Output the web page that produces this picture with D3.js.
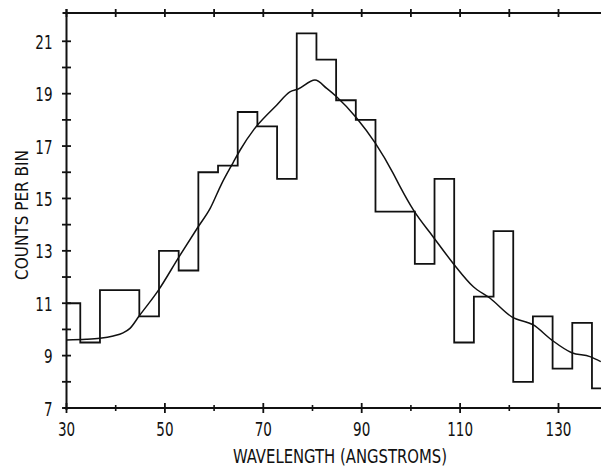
<!DOCTYPE html>
<html>
<head>
<meta charset="utf-8">
<script src="https://cdn.jsdelivr.net/npm/d3@7"></script>
<style>
  body { margin: 0; background: #fff; }
  svg text { font-family: "DejaVu Sans Condensed", "Liberation Sans Narrow", "DejaVu Sans", sans-serif; fill: #111; }
</style>
</head>
<body>
<div id="chart"></div>
<script>
// histogram bins (left edge in angstroms) and counts per bin
var binEdges = [28.8, 32.8, 36.8, 40.8, 44.8, 48.8, 52.8, 56.8, 60.8, 64.8, 68.8, 72.8, 76.8, 80.8,
  84.8, 88.8, 92.8, 96.8, 100.8, 104.8, 108.8, 112.8, 116.8, 120.8, 124.8, 128.8, 132.8, 136.8, 140.8];
var counts = [11.0, 9.5, 11.5, 11.5, 10.5, 13.0, 12.25, 16.0, 16.25, 18.3, 17.75, 15.75, 21.3, 20.3,
  18.75, 18.0, 14.5, 14.5, 12.5, 15.75, 9.5, 11.25, 13.75, 8.0, 10.5, 8.5, 10.25, 7.75];

// smoothed curve
var curveX = [30.0, 34.0, 36.8, 39.5, 41.5, 42.9, 44.8, 48.7, 52.9, 56.7, 59.2, 61.5, 63.9, 65.3, 68.0, 69.0,
  72.7, 75.4, 77.1, 80.5, 82.9, 84.9, 89.0, 92.8, 96.4, 97.8, 100.5, 104.5, 108.6, 112.7, 116.1, 120.5,
  124.9, 128.6, 132.7, 136.4, 138.6];
var curveY = [9.60, 9.62, 9.66, 9.75, 9.87, 10.04, 10.52, 11.5, 12.78, 13.9, 14.62, 15.55, 16.38, 16.85, 17.61, 17.84,
  18.56, 19.07, 19.18, 19.52, 19.20, 18.88, 18.06, 17.10, 15.96, 15.45, 14.56, 13.54, 12.52, 11.63, 11.19, 10.48,
  10.17, 9.60, 9.11, 8.96, 8.77];

var xMajor = [30, 50, 70, 90, 110, 130];
var xMinor = [40, 60, 80, 100, 120];
var yMajor = [7, 9, 11, 13, 15, 17, 19, 21];
var yMinor = [8, 10, 12, 14, 16, 18, 20];

var width = 601, height = 470;
var x = d3.scaleLinear().domain([30, 140]).range([66.5, 607.7]);
var y = d3.scaleLinear().domain([7, 22.08]).range([408, 13]);

var svg = d3.select("#chart").append("svg")
  .attr("width", width)
  .attr("height", height);

svg.append("defs").append("clipPath").attr("id", "plot")
  .append("rect")
  .attr("x", x(30)).attr("y", 0)
  .attr("width", width - x(30)).attr("height", y(7));

// histogram as a step line
var steps = binEdges.map(function(e, i) { return [e, i < counts.length ? counts[i] : counts[counts.length - 1]]; });
var stepLine = d3.line()
  .x(function(d) { return x(d[0]); })
  .y(function(d) { return y(d[1]); })
  .curve(d3.curveStepAfter);

svg.append("path")
  .datum(steps)
  .attr("clip-path", "url(#plot)")
  .attr("d", stepLine)
  .attr("fill", "none")
  .attr("stroke", "#111")
  .attr("stroke-width", 1.8);

// smooth curve
var smooth = d3.line()
  .x(function(d) { return x(d[0]); })
  .y(function(d) { return y(d[1]); })
  .curve(d3.curveMonotoneX);

svg.append("path")
  .datum(curveX.map(function(v, i) { return [v, curveY[i]]; }))
  .attr("clip-path", "url(#plot)")
  .attr("d", smooth)
  .attr("fill", "none")
  .attr("stroke", "#111")
  .attr("stroke-width", 1.5);

// axes: ticks cross the line on both sides
var bottomAxis = svg.append("g").attr("transform", "translate(0," + y(7) + ")");
bottomAxis.append("line").attr("x1", x(30) - 3).attr("x2", width).attr("y1", 0).attr("y2", 0)
  .attr("stroke", "#111").attr("stroke-width", 2);
bottomAxis.selectAll(".maj").data(xMajor).enter().append("line")
  .attr("x1", function(d) { return x(d); }).attr("x2", function(d) { return x(d); })
  .attr("y1", -5).attr("y2", 5).attr("stroke", "#111").attr("stroke-width", 1.8);
bottomAxis.selectAll(".mnr").data(xMinor).enter().append("line")
  .attr("x1", function(d) { return x(d); }).attr("x2", function(d) { return x(d); })
  .attr("y1", -3).attr("y2", 3).attr("stroke", "#111").attr("stroke-width", 1.6);
bottomAxis.selectAll("text").data(xMajor).enter().append("text")
  .attr("x", function(d) { return x(d); })
  .attr("y", 28)
  .attr("text-anchor", "middle")
  .attr("font-size", 20)
  .attr("textLength", function(d) { return String(d).length * 8.6; })
  .attr("lengthAdjust", "spacingAndGlyphs")
  .text(function(d) { return d; });

var topAxis = svg.append("g").attr("transform", "translate(0," + y(22.08) + ")");
topAxis.append("line").attr("x1", x(30) - 4).attr("x2", width).attr("y1", 0).attr("y2", 0)
  .attr("stroke", "#111").attr("stroke-width", 2);
topAxis.selectAll("line.t").data(xMajor.concat(xMinor)).enter().append("line")
  .attr("x1", function(d) { return x(d); }).attr("x2", function(d) { return x(d); })
  .attr("y1", -4).attr("y2", 4).attr("stroke", "#111").attr("stroke-width", 1.8);

var leftAxis = svg.append("g").attr("transform", "translate(" + x(30) + ",0)");
leftAxis.append("line").attr("x1", 0).attr("x2", 0).attr("y1", y(22.08) - 4).attr("y2", y(7) + 2)
  .attr("stroke", "#111").attr("stroke-width", 2);
leftAxis.selectAll(".ytick").data(yMajor.concat(yMinor)).enter().append("line")
  .attr("x1", -4.5).attr("x2", 4.5)
  .attr("y1", function(d) { return y(d); }).attr("y2", function(d) { return y(d); })
  .attr("stroke", "#111").attr("stroke-width", 1.8);
leftAxis.selectAll("text").data(yMajor).enter().append("text")
  .attr("x", -14)
  .attr("y", function(d) { return y(d) + 7.5; })
  .attr("text-anchor", "end")
  .attr("font-size", 20)
  .attr("textLength", function(d) { return String(d).length * 8.6; })
  .attr("lengthAdjust", "spacingAndGlyphs")
  .text(function(d) { return d; });

// axis titles
svg.append("text")
  .attr("x", 340).attr("y", 463)
  .attr("text-anchor", "middle")
  .attr("font-size", 19)
  .attr("textLength", 214)
  .attr("lengthAdjust", "spacingAndGlyphs")
  .text("WAVELENGTH (ANGSTROMS)");

svg.append("text")
  .attr("transform", "translate(28,215) rotate(-90)")
  .attr("text-anchor", "middle")
  .attr("font-size", 18)
  .attr("textLength", 130)
  .attr("lengthAdjust", "spacingAndGlyphs")
  .text("COUNTS PER BIN");
</script>
</body>
</html>
